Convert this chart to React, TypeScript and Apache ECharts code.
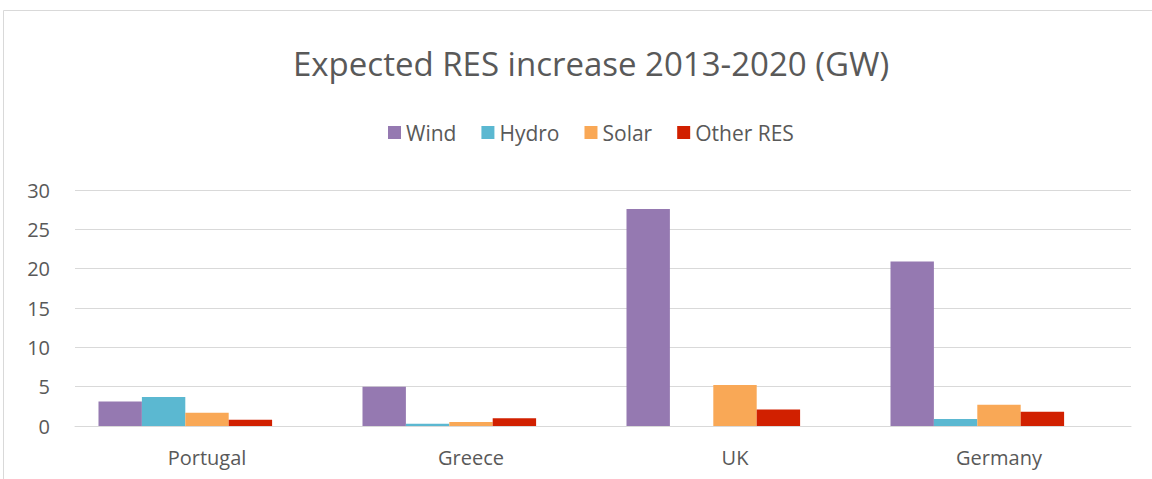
import React, { useEffect, useRef } from "react";
import * as echarts from "echarts";

const categories = ["Portugal", "Greece", "UK", "Germany"];
const seriesNames = ["Wind", "Hydro", "Solar", "Other RES"];
const wind = [3.1, 5.0, 27.6, 20.9];
const hydro = [3.7, 0.3, 0, 0.9];
const solar = [1.7, 0.5, 5.2, 2.7];
const otherRes = [0.8, 1.0, 2.1, 1.8];
// empty fifth series present in the source chart (reserves a bar slot)
const emptySeries = [null, null, null, null];
const colors = ["#9579B1", "#5BB8D1", "#F9A856", "#D12000"];
const yTicks = [0, 5, 10, 15, 20, 25, 30];

export default function App() {
  const ref = useRef<HTMLDivElement>(null);
  useEffect(() => {
    if (!ref.current) return;
    const chart = echarts.init(ref.current, null, { renderer: "svg" });
    const values = [wind, hydro, solar, otherRes];
    const font = "'Open Sans', 'Noto Sans', sans-serif";
    const series: any[] = seriesNames.map((name, i) => ({
      name,
      type: "bar",
      data: values[i],
      barGap: "0%",
      barCategoryGap: "17.8%",
      itemStyle: { color: colors[i] },
    }));
    series.push({
      name: "_empty",
      type: "bar",
      data: emptySeries,
      barGap: "0%",
      barCategoryGap: "17.8%",
      itemStyle: { color: "transparent" },
    });
    chart.setOption({
      animation: false,
      backgroundColor: "#ffffff",
      title: {
        text: "Expected RES increase 2013-2020 (GW)",
        left: 288,
        top: 42,
        textStyle: { color: "#595959", fontSize: 33, fontWeight: "normal", fontFamily: font },
      },
      legend: {
        data: seriesNames,
        top: 117,
        left: 383,
        itemWidth: 13,
        itemHeight: 13,
        itemGap: 25,
        icon: "rect",
        textStyle: { color: "#595959", fontSize: 21, fontFamily: font },
      },
      graphic: [
        {
          type: "rect",
          shape: { x: 3.5, y: 10.5, width: 1200, height: 600 },
          style: { fill: "none", stroke: "#d9d9d9", lineWidth: 1 },
          silent: true,
        },
      ],
      grid: { left: 75, right: 21, top: 190, bottom: 53, containLabel: false },
      xAxis: {
        type: "category",
        data: categories,
        axisLine: { show: true, lineStyle: { color: "#d9d9d9", width: 1 } },
        axisTick: { show: false },
        axisLabel: { color: "#595959", fontSize: 20, fontFamily: font, margin: 21 },
      },
      yAxis: {
        type: "value",
        min: yTicks[0],
        max: yTicks[yTicks.length - 1],
        interval: 5,
        axisLine: { show: false },
        axisTick: { show: false },
        splitLine: { lineStyle: { color: "#d9d9d9", width: 1 } },
        axisLabel: { color: "#595959", fontSize: 20, fontFamily: font, margin: 25 },
      },
      series,
    });
    return () => chart.dispose();
  }, []);
  return (
    <div
      ref={ref}
      style={{ position: "absolute", left: 0, top: 0, width: 1152, height: 479 }}
    />
  );
}
